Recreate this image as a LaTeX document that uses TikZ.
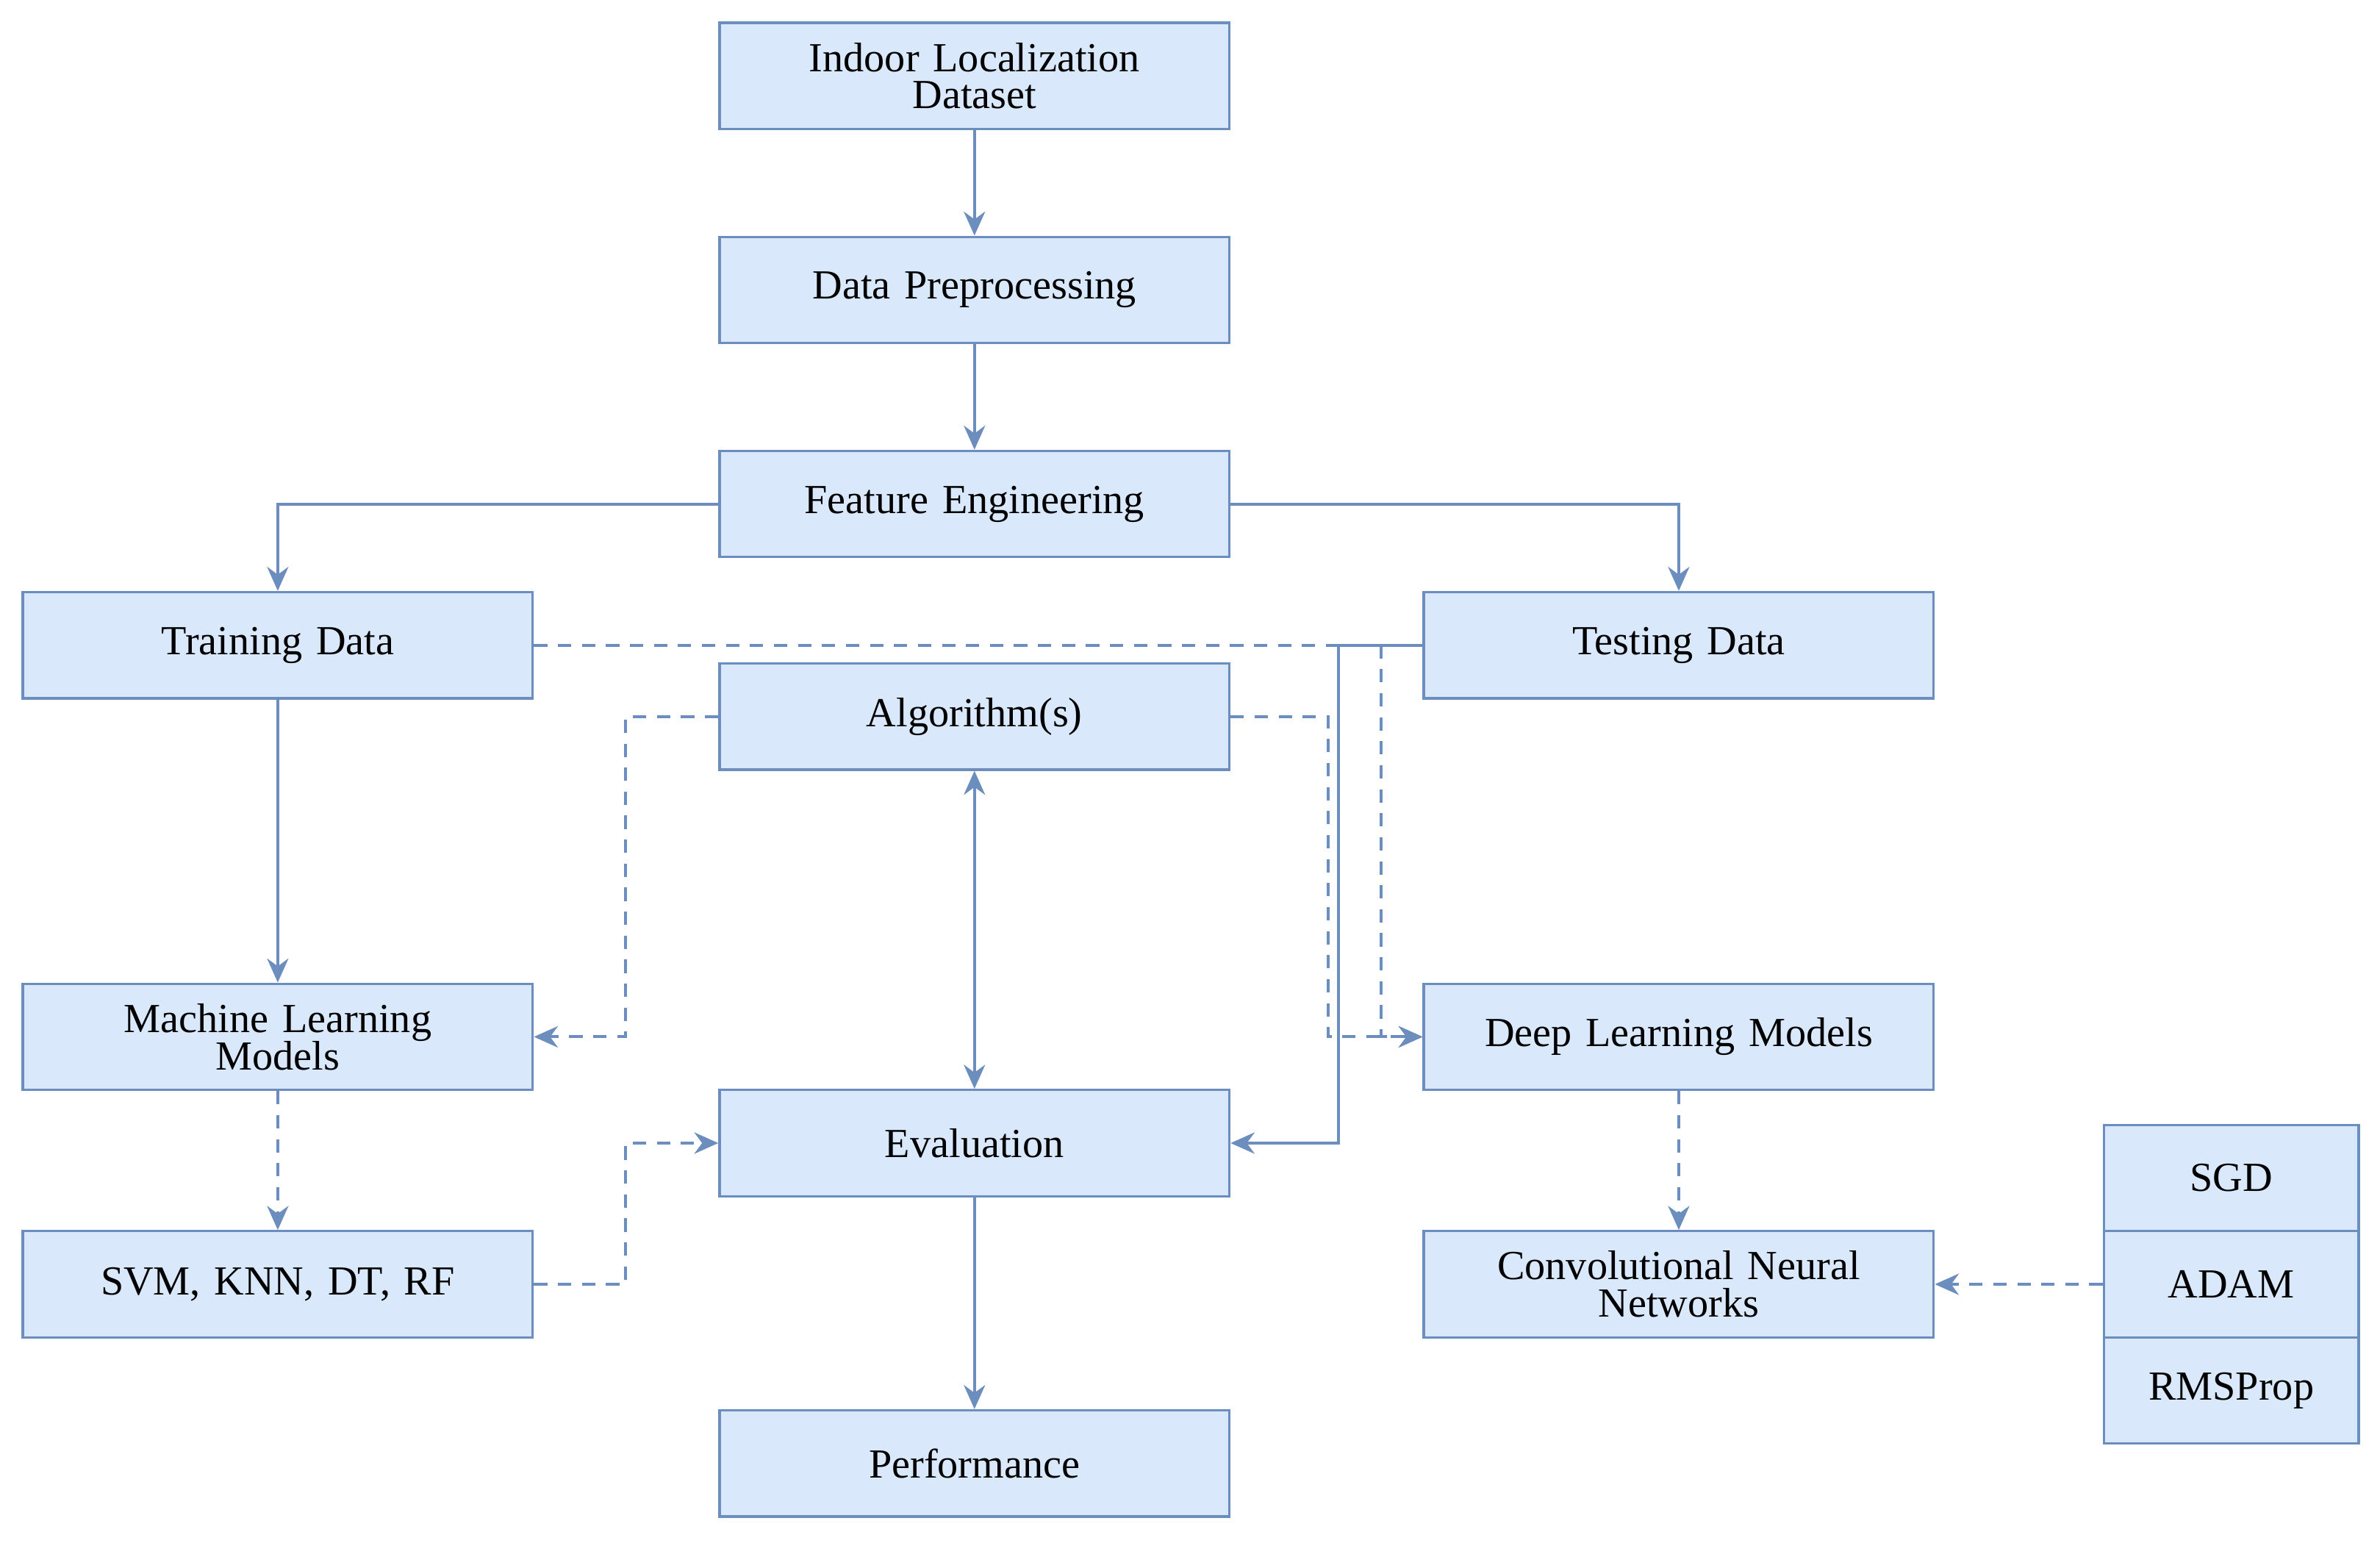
\documentclass[tikz,border=0pt]{standalone}
\usepackage{fontspec}
\setmainfont{Liberation Serif}
\usetikzlibrary{arrows.meta}
\definecolor{ln}{HTML}{6C8EBF}
\definecolor{fl}{HTML}{DAE8FC}
\begin{document}
\begin{tikzpicture}[x=0.02cm,y=-0.02cm,
  box/.style={draw=ln,fill=fl,line width=0.9pt,minimum width=6.72cm,minimum height=1.4cm,inner sep=0pt,align=center,font=\fontsize{15.5}{16}\selectfont,text width=6.4cm},
  sbox/.style={box,minimum width=3.36cm,text width=3.2cm},
  ar/.style={draw=ln,line width=1.1pt,-{Stealth[length=9pt,width=8pt]}},
  da/.style={ar,dashed,dash pattern=on 5pt off 4pt},
  dl/.style={draw=ln,line width=1.1pt,dashed,dash pattern=on 5pt off 4pt}]
\useasboundingbox (0,0) rectangle (1568,1016);
\node[box] (ild) at (642,50) {Indoor Localization\\[-2pt]Dataset};
\node[box] (dp) at (642,191) {Data Preprocessing};
\node[box] (fe) at (642,332) {Feature Engineering};
\node[box] (tr) at (183,425) {Training Data};
\node[box] (te) at (1106,425) {Testing Data};
\node[box] (al) at (642,472) {Algorithm(s)};
\node[box] (ml) at (183,683) {Machine Learning\\[-2pt]Models};
\node[box] (dlm) at (1106,683) {Deep Learning Models};
\node[box] (ev) at (642,753) {Evaluation};
\node[box] (svm) at (183,846) {SVM, KNN, DT, RF};
\node[box] (cnn) at (1106,846) {Convolutional Neural\\[-2pt]Networks};
\node[box] (pf) at (642,964) {Performance};
\node[sbox] (sgd) at (1470,776) {SGD};
\node[sbox] (adam) at (1470,846) {ADAM};
\node[sbox] (rms) at (1470,916) {RMSProp};
\coordinate (j1) at (882,425);
\coordinate (j2) at (910,425);
\draw[ar] (ild) -- (dp);
\draw[ar] (dp) -- (fe);
\draw[ar] (fe.west) -| (tr.north);
\draw[ar] (fe.east) -| (te.north);
\draw[dl] (tr.east) -- (j1);
\draw[draw=ln,line width=1.1pt] (te.west) -- (j1);
\draw[ar] (j1) |- (ev.east);
\draw[da] (j2) |- (dlm.west);
\draw[da] (al.east) -| (875,683) -- (dlm.west);
\draw[da] (al.west) -| (412,683) -- (ml.east);
\draw[ar] (tr) -- (ml);
\draw[ar,{Stealth[length=9pt,width=8pt]}-{Stealth[length=9pt,width=8pt]}] (al) -- (ev);
\draw[da] (ml) -- (svm);
\draw[da] (svm.east) -| (412,753) -- (ev.west);
\draw[ar] (ev) -- (pf);
\draw[da] (dlm) -- (cnn);
\draw[da] (adam.west) -- (cnn.east);
\end{tikzpicture}
\end{document}
